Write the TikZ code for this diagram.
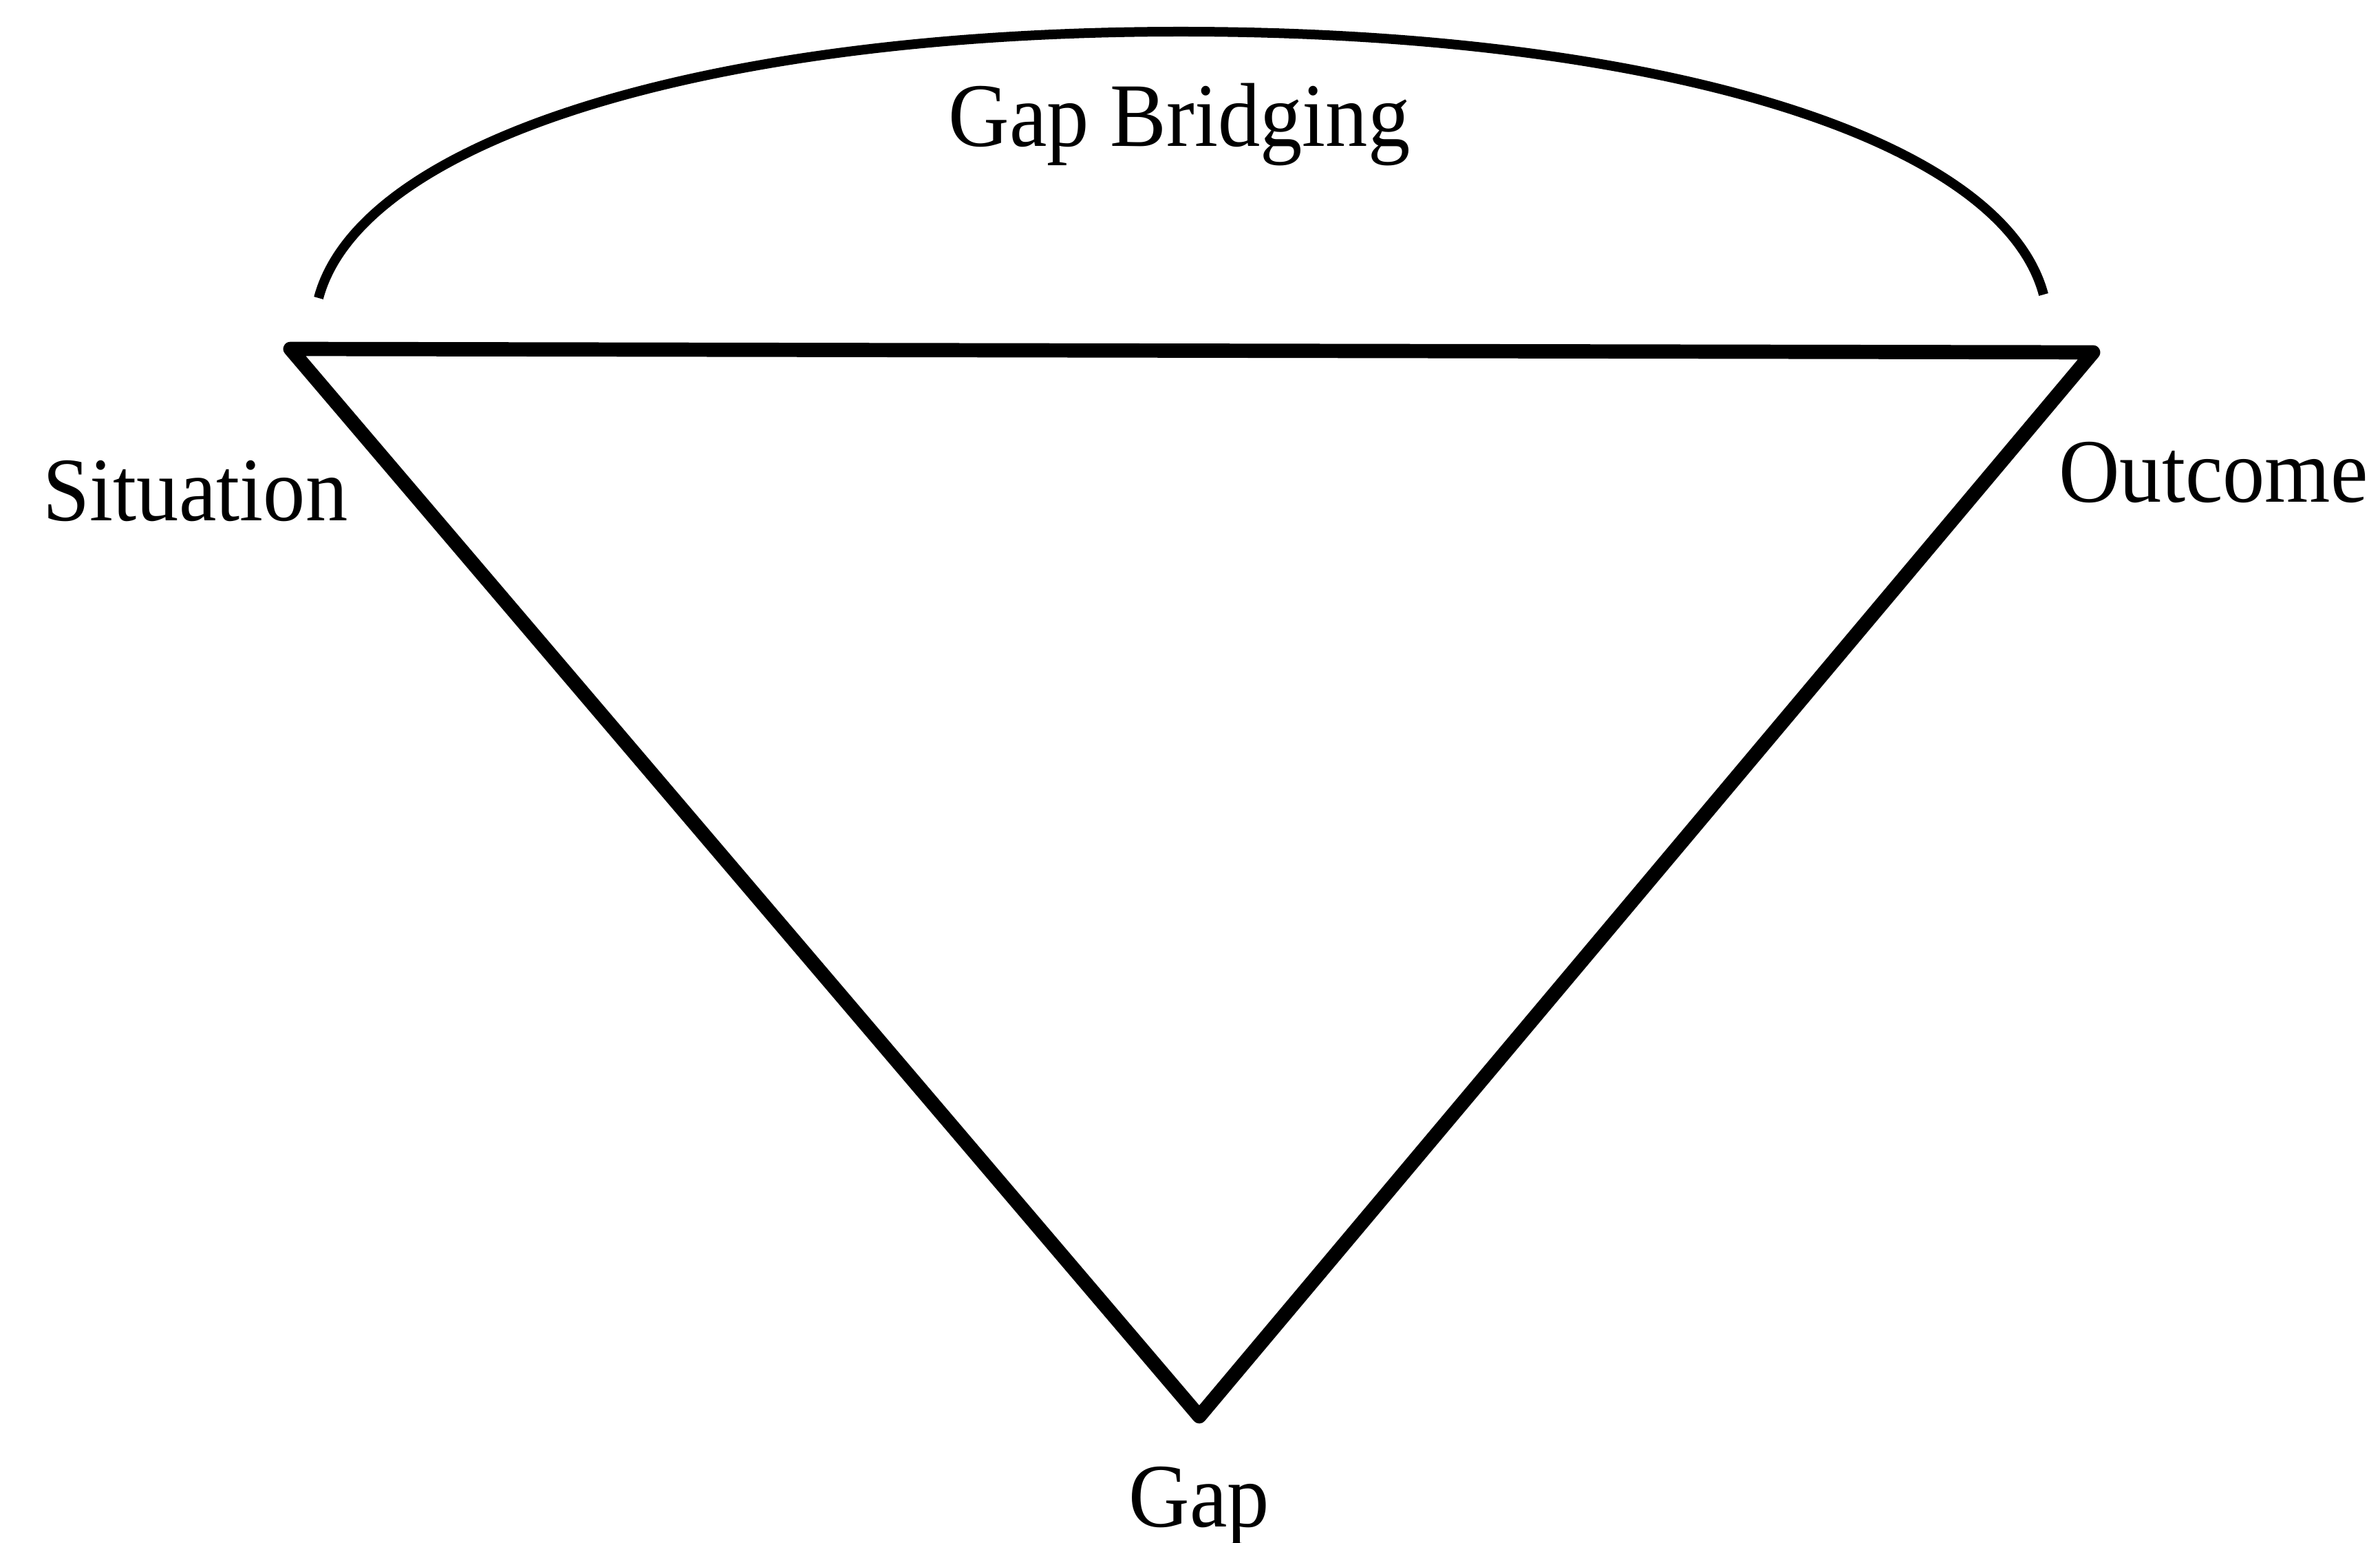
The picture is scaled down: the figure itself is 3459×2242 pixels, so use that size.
\documentclass[tikz,border=0pt]{standalone}
\usepackage{fontspec}
\setmainfont{Liberation Serif}[FakeStretch=0.93]

\begin{document}
\begin{tikzpicture}[x=0.1mm,y=-0.1mm,
    side/.style={line width=2.07mm,line join=round},
    bridge/.style={line width=1.4mm,line cap=butt},
    lbl/.style={anchor=base,inner sep=0pt,font=\fontsize{37.5}{45}\selectfont}]
    \useasboundingbox (0,0) rectangle (3459,2242);
    % ---- corners of the triangle ----
    \coordinate (sit) at (422,507);
    \coordinate (out) at (3042,512);
    \coordinate (gap) at (1743,2058);
    \draw[side] (sit) -- (out) -- (gap) -- cycle;
    % ---- bridge over the top ----
    \coordinate (bl) at (463,433);
    \coordinate (bt) at (1716,46);
    \coordinate (br) at (2970,428);
    \draw[bridge] (bl) .. controls (525,201) and (1036,46) .. (bt)
                       .. controls (2396,46) and (2908,196) .. (br);
    % ---- labels ----
    \node[lbl] (bridging)  at (1714,213)  {Gap Bridging};
    \node[lbl] (situation) at (284,757)   {Situation};
    \node[lbl] (outcome)   at (3217,730)  {Outcome};
    \node[lbl] (gaplbl)    at (1743,2218) {Gap};
\end{tikzpicture}
\end{document}
